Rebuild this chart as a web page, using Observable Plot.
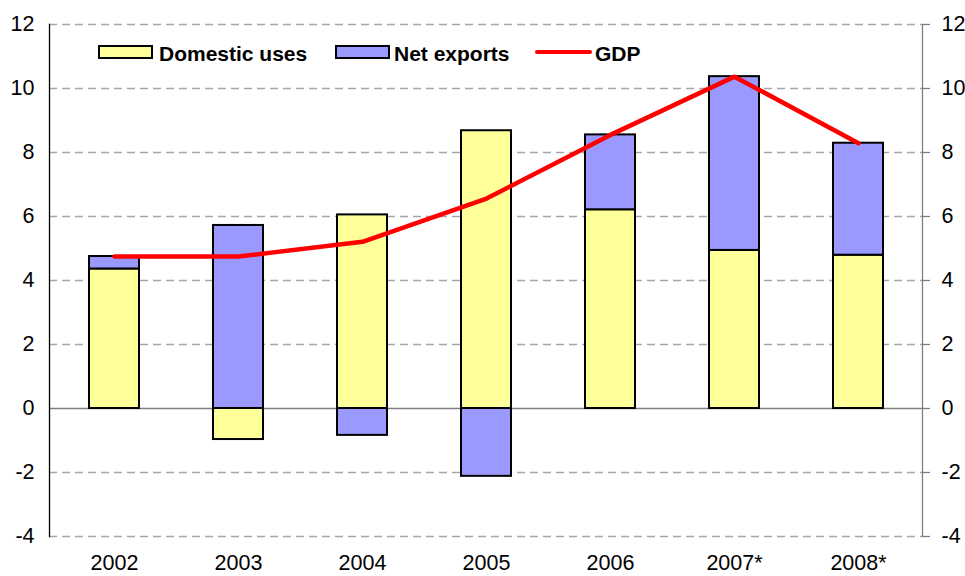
<!DOCTYPE html>
<html>
<head>
<meta charset="utf-8">
<script src="https://cdn.jsdelivr.net/npm/d3@7"></script>
<script src="https://cdn.jsdelivr.net/npm/@observablehq/plot@0.6"></script>
<style>
  html, body { margin: 0; padding: 0; background: #fff; }
  #wrap { position: relative; width: 965px; height: 576px; font-family: "Liberation Sans", Arial, sans-serif; }
  .leg { position: absolute; }
  .sw { height: 14px; width: 55px; box-sizing: border-box; border: 2px solid #000; top: 45px; }
  .lt { font-weight: bold; font-size: 21px; line-height: 21px; top: 43px; color: #000; white-space: nowrap; }
  .ln { height: 4px; border-radius: 2px; background: #ff0000; top: 50px; width: 57px; }
</style>
</head>
<body>
<div id="wrap">
  <div id="chart"></div>
  <div class="leg sw" style="left:98px;background:#FFFF99"></div>
  <div class="leg lt" style="left:159px">Domestic uses</div>
  <div class="leg sw" style="left:335px;background:#9999FF"></div>
  <div class="leg lt" style="left:394px">Net exports</div>
  <div class="leg ln" style="left:535px"></div>
  <div class="leg lt" style="left:595px">GDP</div>
</div>
<script>
const years = ["2002", "2003", "2004", "2005", "2006", "2007*", "2008*"];
const domesticUses = [4.36, -0.97, 6.05, 8.68, 6.21, 4.94, 4.79];
const netExports = [0.39, 5.72, -0.84, -2.12, 2.34, 5.43, 3.50];
const gdp = [4.75, 4.75, 5.21, 6.56, 8.55, 10.37, 8.29];
const seriesNames = ["Domestic uses", "Net exports"];
const seriesColors = ["#FFFF99", "#9999FF"];
const yTicks = [-4, -2, 0, 2, 4, 6, 8, 10, 12];

const rows = [];
years.forEach((y, i) => {
  rows.push({year: y, series: seriesNames[0], value: domesticUses[i]});
  rows.push({year: y, series: seriesNames[1], value: netExports[i]});
});
const gdpRows = years.map((y, i) => ({year: y, value: gdp[i]}));

const chart = Plot.plot({
  width: 965,
  height: 576,
  marginLeft: 49,
  marginRight: 43,
  marginTop: 24,
  marginBottom: 40,
  style: {fontFamily: "'Liberation Sans', Arial, sans-serif", fontSize: "21.5px", color: "#000", background: "#fff"},
  x: {type: "band", domain: years, paddingInner: 0.6, paddingOuter: 0.3, label: null},
  y: {domain: [-4, 12], label: null},
  color: {domain: seriesNames, range: seriesColors},
  marks: [
    Plot.ruleY(yTicks.filter(d => d !== 0), {stroke: "#a6a6a6", strokeWidth: 1.3, strokeDasharray: "8,5"}),
    Plot.ruleY([0], {stroke: "#808080", strokeWidth: 1.3}),
    Plot.barY(rows, Plot.stackY({x: "year", y: "value", fill: "series", stroke: "#000", strokeWidth: 2})),
    Plot.line(gdpRows, {x: "year", y: "value", stroke: "#ff0000", strokeWidth: 4.5, strokeLinecap: "round", strokeLinejoin: "round"}),
    Plot.frame({anchor: "left", stroke: "#000", strokeWidth: 1.3}),
    Plot.frame({anchor: "right", stroke: "#808080", strokeWidth: 1.3}),
    Plot.axisY({anchor: "left", ticks: yTicks, tickFormat: d => String(d), tickSize: 0, tickPadding: 15, label: null}),
    Plot.axisY({anchor: "right", ticks: yTicks, tickFormat: d => String(d), tickSize: 7, tickPadding: 12, stroke: "#808080", strokeWidth: 1.3, label: null}),
    Plot.axisX({anchor: "bottom", tickSize: 0, tickPadding: 18, label: null})
  ]
});
document.getElementById("chart").appendChild(chart);
</script>
</body>
</html>
